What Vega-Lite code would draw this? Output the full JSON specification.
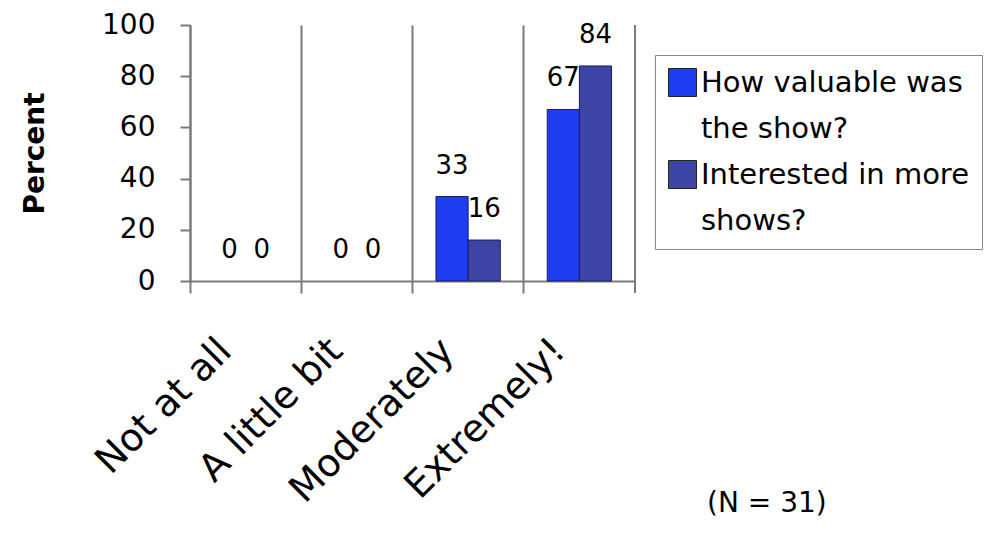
{
  "$schema": "https://vega.github.io/schema/vega-lite/v6.json",
  "autosize": {"type": "none"},
  "padding": {"left": 190, "top": 25, "right": 357, "bottom": 254},
  "width": 445,
  "height": 256,
  "background": "white",
  "title": {
    "text": "(N = 31)",
    "orient": "bottom",
    "anchor": "start",
    "frame": "group",
    "offset": -20,
    "dx": 517,
    "fontSize": 28,
    "fontWeight": "normal",
    "font": "DejaVu Sans",
    "color": "black"
  },
  "data": {
    "values": [
      {"cat": "Not at all", "series": "How valuable was the show?", "value": 0},
      {"cat": "Not at all", "series": "Interested in more shows?", "value": 0},
      {"cat": "A little bit", "series": "How valuable was the show?", "value": 0},
      {"cat": "A little bit", "series": "Interested in more shows?", "value": 0},
      {"cat": "Moderately", "series": "How valuable was the show?", "value": 33},
      {"cat": "Moderately", "series": "Interested in more shows?", "value": 16},
      {"cat": "Extremely!", "series": "How valuable was the show?", "value": 67},
      {"cat": "Extremely!", "series": "Interested in more shows?", "value": 84}
    ]
  },
  "encoding": {
    "x": {
      "field": "cat",
      "type": "nominal",
      "sort": ["Not at all", "A little bit", "Moderately", "Extremely!"],
      "scale": {"paddingInner": 0, "paddingOuter": 0},
      "axis": {
        "bandPosition": 0,
        "title": null,
        "grid": true,
        "gridColor": "#7a7a7a",
        "gridWidth": 2,
        "gridOpacity": 1,
        "domainColor": "#7a7a7a",
        "domainWidth": 2,
        "tickColor": "#7a7a7a",
        "tickWidth": 2,
        "tickSize": 12,
        "labelAngle": -45,
        "labelAlign": "right",
        "labelBaseline": "middle",
        "labelFont": "DejaVu Sans",
        "labelFontSize": 38,
        "labelColor": "black",
        "labelLimit": 0,
        "labelOffset": -20,
        "labelPadding": 52
      }
    },
    "y": {
      "field": "value",
      "type": "quantitative",
      "scale": {"domain": [0, 100]},
      "axis": {
        "values": [0, 20, 40, 60, 80, 100],
        "grid": false,
        "domainColor": "#7a7a7a",
        "domainWidth": 2,
        "tickColor": "#7a7a7a",
        "tickWidth": 2,
        "tickSize": 10,
        "labelPadding": 25,
        "labelFont": "DejaVu Sans",
        "labelFontSize": 28,
        "labelColor": "black",
        "title": "Percent",
        "titleFont": "DejaVu Sans",
        "titleFontSize": 28,
        "titleFontWeight": "bold",
        "titleColor": "black",
        "titlePadding": 52
      }
    }
  },
  "layer": [
    {
      "mark": {"type": "bar", "stroke": "#1c1c5c", "strokeWidth": 1},
      "encoding": {
        "xOffset": {
          "field": "series",
          "sort": ["How valuable was the show?", "Interested in more shows?"],
          "scale": {"paddingOuter": 0.73, "paddingInner": 0}
        },
        "strokeOpacity": {"condition": {"test": "datum.value > 0", "value": 1}, "value": 0},
        "color": {
          "field": "series",
          "type": "nominal",
          "scale": {
            "domain": ["How valuable was the show?", "Interested in more shows?"],
            "range": ["#1e3cf2", "#3c44a6"]
          },
          "legend": {
            "orient": "none",
            "legendX": 465,
            "legendY": 30,
            "title": null,
            "strokeColor": "#888888",
            "padding": 13,
            "symbolType": "square",
            "symbolSize": 784,
            "symbolStrokeColor": "#222222",
            "symbolStrokeWidth": 1,
            "symbolOpacity": 1,
            "labelFont": "DejaVu Sans",
            "labelFontSize": 29,
            "labelColor": "black",
            "labelOffset": 4,
            "labelLimit": 0,
            "rowPadding": 14,
            "labelExpr": "datum.label == 'How valuable was the show?' ? ['How valuable was', 'the show?'] : ['Interested in more', 'shows?']"
          }
        }
      }
    },
    {
      "mark": {"type": "text", "dy": -31, "fontSize": 26, "font": "DejaVu Sans", "baseline": "middle", "color": "black"},
      "encoding": {
        "xOffset": {
          "field": "series",
          "sort": ["How valuable was the show?", "Interested in more shows?"],
          "scale": {"paddingOuter": 0.73, "paddingInner": 0}
        },
        "text": {"field": "value", "type": "quantitative"}
      }
    },
    {
      "data": {"values": [{"cat": "Extremely!", "top": 100, "bottom": -4.7}]},
      "mark": {"type": "rule", "color": "#7a7a7a", "strokeWidth": 2},
      "encoding": {
        "x": {"field": "cat", "type": "nominal", "bandPosition": 1},
        "y": {"field": "top", "type": "quantitative"},
        "y2": {"field": "bottom"}
      }
    }
  ],
  "config": {
    "view": {"stroke": null},
    "font": "DejaVu Sans",
    "style": {"guide-label": {"lineHeight": 46}}
  }
}
